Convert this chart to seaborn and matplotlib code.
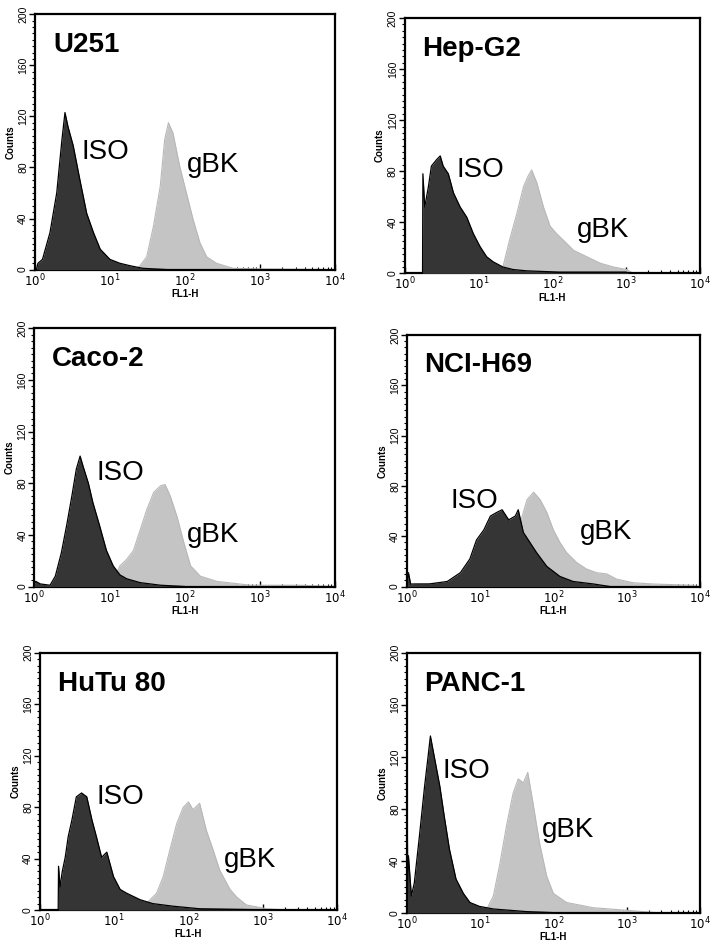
import numpy as np
import matplotlib
matplotlib.use("Agg")
import matplotlib.pyplot as plt
import seaborn as sns
from matplotlib.ticker import MultipleLocator, LogLocator

sns.set_style("ticks")
plt.rcParams['font.family'] = ['Liberation Sans', 'DejaVu Sans']
plt.rcParams['text.color'] = 'black'
plt.rcParams['axes.labelcolor'] = 'black'
plt.rcParams['xtick.color'] = 'black'
plt.rcParams['ytick.color'] = 'black'

# panel names
cells = ["U251", "Hep-G2", "Caco-2", "NCI-H69", "HuTu 80", "PANC-1"]

# histogram outlines: log10(FL1-H) position, counts
u251_iso_log = [0.02, 0.04, 0.1, 0.2, 0.29, 0.36, 0.4, 0.44, 0.51, 0.6, 0.69, 0.78, 0.87, 1.0, 1.13, 1.27, 1.44, 1.76]
u251_iso_cnt = [0, 5, 8, 29, 60, 102, 123, 112, 97, 70, 44, 29, 16, 8, 5, 3, 1, 0]
u251_gbk_log = [1.35, 1.4, 1.49, 1.58, 1.67, 1.73, 1.78, 1.84, 1.93, 2.02, 2.11, 2.2, 2.29, 2.42, 2.64, 3.09, 3.98]
u251_gbk_cnt = [0, 3, 10, 34, 65, 102, 115, 107, 81, 60, 39, 21, 10, 5, 1, 0.5, 0]

hepg2_iso_log = [0.24, 0.245, 0.27, 0.32, 0.36, 0.43, 0.48, 0.52, 0.59, 0.66, 0.75, 0.84, 0.93, 1.02, 1.11, 1.2, 1.33, 1.47, 1.65, 2.1, 3.0, 3.05]
hepg2_iso_cnt = [0, 78, 52, 68, 84, 89, 92, 84, 78, 63, 52, 44, 31, 21, 13, 9, 5, 3, 2, 1, 1, 0]
hepg2_gbk_log = [1.3, 1.33, 1.42, 1.52, 1.61, 1.67, 1.72, 1.79, 1.88, 1.97, 2.06, 2.15, 2.29, 2.47, 2.65, 2.83, 3.01, 3.1]
hepg2_gbk_cnt = [0, 5, 26, 47, 68, 76, 81, 71, 52, 37, 31, 26, 18, 13, 8, 5, 3, 0]

caco2_iso_log = [0.0, 0.02, 0.08, 0.21, 0.28, 0.36, 0.43, 0.5, 0.56, 0.61, 0.65, 0.72, 0.78, 0.87, 0.96, 1.05, 1.14, 1.23, 1.41, 1.68, 2.0]
caco2_iso_cnt = [2, 4, 2, 1, 8, 26, 47, 70, 91, 101, 93, 80, 65, 47, 28, 16, 9, 6, 3, 1, 0]
caco2_gbk_log = [1.0, 1.05, 1.14, 1.23, 1.32, 1.41, 1.5, 1.59, 1.68, 1.74, 1.81, 1.9, 1.99, 2.08, 2.21, 2.43, 2.88, 3.54, 3.98]
caco2_gbk_cnt = [0, 5, 16, 21, 28, 44, 60, 73, 78, 79, 70, 54, 34, 16, 8, 4, 1, 1, 0]

ncih69_iso_log = [0.0, 0.02, 0.05, 0.3, 0.55, 0.73, 0.86, 0.95, 1.05, 1.14, 1.23, 1.3, 1.39, 1.48, 1.52, 1.59, 1.68, 1.77, 1.91, 2.09, 2.27, 2.55, 2.77]
ncih69_iso_cnt = [0, 11, 2, 2, 4, 11, 22, 37, 45, 56, 59, 61, 53, 56, 61, 43, 35, 27, 16, 8, 4, 2, 0]
ncih69_gbk_log = [0.1, 0.73, 0.95, 1.18, 1.36, 1.5, 1.55, 1.64, 1.73, 1.82, 1.91, 2.0, 2.09, 2.18, 2.32, 2.45, 2.59, 2.73, 2.86, 3.09, 3.36, 3.91, 3.98]
ncih69_gbk_cnt = [2, 3, 8, 22, 35, 45, 51, 69, 75, 69, 59, 45, 35, 27, 19, 14, 11, 10, 6, 3, 2, 1, 0]

hutu80_iso_log = [0.245, 0.25, 0.27, 0.3, 0.34, 0.38, 0.43, 0.49, 0.56, 0.63, 0.7, 0.76, 0.83, 0.9, 0.99, 1.08, 1.17, 1.35, 1.52, 1.79, 2.15, 3.23]
hutu80_iso_cnt = [0, 34, 18, 30, 41, 57, 70, 88, 91, 88, 70, 57, 41, 45, 26, 16, 13, 8, 5, 3, 1, 0]
hutu80_gbk_log = [1.38, 1.43, 1.57, 1.66, 1.75, 1.84, 1.93, 2.0, 2.06, 2.15, 2.24, 2.33, 2.42, 2.56, 2.65, 2.78, 3.05, 3.3]
hutu80_gbk_cnt = [0, 5, 13, 26, 47, 67, 80, 84, 78, 83, 62, 47, 31, 16, 10, 4, 1, 0]

panc1_iso_log = [0.0, 0.02, 0.06, 0.1, 0.17, 0.24, 0.29, 0.32, 0.38, 0.45, 0.51, 0.58, 0.67, 0.77, 0.86, 0.99, 1.18, 1.63, 2.09]
panc1_iso_cnt = [0, 44, 13, 23, 59, 97, 121, 136, 118, 97, 74, 49, 26, 15, 8, 5, 3, 1, 0]
panc1_gbk_log = [0.0, 0.005, 0.03, 1.05, 1.11, 1.18, 1.27, 1.36, 1.45, 1.52, 1.59, 1.65, 1.72, 1.81, 1.91, 2.0, 2.18, 2.54, 3.0, 3.45]
panc1_gbk_cnt = [0, 62, 0, 0, 5, 13, 38, 67, 92, 103, 100, 108, 85, 54, 28, 15, 8, 4, 2, 0]

iso_logs = [u251_iso_log, hepg2_iso_log, caco2_iso_log, ncih69_iso_log, hutu80_iso_log, panc1_iso_log]
iso_cnts = [u251_iso_cnt, hepg2_iso_cnt, caco2_iso_cnt, ncih69_iso_cnt, hutu80_iso_cnt, panc1_iso_cnt]
gbk_logs = [u251_gbk_log, hepg2_gbk_log, caco2_gbk_log, ncih69_gbk_log, hutu80_gbk_log, panc1_gbk_log]
gbk_cnts = [u251_gbk_cnt, hepg2_gbk_cnt, caco2_gbk_cnt, ncih69_gbk_cnt, hutu80_gbk_cnt, panc1_gbk_cnt]

# label positions (log10 x, counts) for ISO / gBK
iso_pos = [(0.62, 92), (0.70, 81), (0.83, 88), (0.59, 68), (0.76, 88), (0.49, 109)]
gbk_pos = [(2.02, 82), (2.33, 34), (2.03, 40), (2.36, 43), (2.47, 39), (1.84, 64)]

# axes rectangles in figure fraction
rects = [
    [0.049, 0.715, 0.420, 0.270],
    [0.567, 0.711, 0.413, 0.270],
    [0.048, 0.380, 0.421, 0.273],
    [0.570, 0.380, 0.410, 0.266],
    [0.056, 0.038, 0.416, 0.272],
    [0.570, 0.035, 0.410, 0.275],
]

fig = plt.figure(figsize=(7.14, 9.46), dpi=100)

for i, name in enumerate(cells):
    ax = fig.add_axes(rects[i])
    gx = 10 ** np.array(gbk_logs[i])
    gy = np.array(gbk_cnts[i])
    ix = 10 ** np.array(iso_logs[i])
    iy = np.array(iso_cnts[i])

    # gBK light grey behind, isotype dark on top
    ax.fill_between(gx, gy, color="#c4c4c4", lw=0, zorder=2)
    sns.lineplot(x=gx, y=gy, ax=ax, color="#b8b8b8", lw=0.8, zorder=2, sort=False)
    ax.fill_between(ix, iy, color="#353535", lw=0, zorder=3)
    sns.lineplot(x=ix, y=iy, ax=ax, color="black", lw=0.9, zorder=4, sort=False)

    ax.set_xscale("log")
    ax.set_xlim(1, 10000)
    ax.set_ylim(0, 200)
    ax.set_xticks([1, 10, 100, 1000, 10000])
    ax.set_xticklabels([r"$10^{0}$", r"$10^{1}$", r"$10^{2}$", r"$10^{3}$", r"$10^{4}$"], fontsize=8.5)
    ax.xaxis.set_minor_locator(LogLocator(base=10, subs=np.arange(2, 10)))
    ax.xaxis.set_minor_formatter(plt.NullFormatter())
    ax.set_yticks([0, 40, 80, 120, 160, 200])
    ax.yaxis.set_minor_locator(MultipleLocator(5))
    for lab in ax.get_yticklabels():
        lab.set_rotation(90)
        lab.set_va("center")
        lab.set_fontsize(7.5)
    ax.tick_params(axis="x", which="major", direction="in", length=4, width=1, pad=2)
    ax.tick_params(axis="x", which="minor", direction="in", length=2, width=0.8)
    ax.tick_params(axis="y", which="major", direction="out", length=4, width=1, pad=1)
    ax.tick_params(axis="y", which="minor", direction="out", length=2, width=0.8)

    for side in ["top", "right", "bottom", "left"]:
        ax.spines[side].set_visible(True)
        ax.spines[side].set_linewidth(1.6)
        ax.spines[side].set_color("black")

    ax.set_xlabel("FL1-H", fontsize=7, fontweight="bold", labelpad=0)
    ax.set_ylabel("Counts", fontsize=7, fontweight="bold", labelpad=2)

    ax.text(0.06, 0.88, name, transform=ax.transAxes, fontsize=20, fontweight="bold",
            ha="left", va="center", color="black", zorder=5)
    ax.text(10 ** iso_pos[i][0], iso_pos[i][1], "ISO", fontsize=20, ha="left", va="center", zorder=5)
    ax.text(10 ** gbk_pos[i][0], gbk_pos[i][1], "gBK", fontsize=20, ha="left", va="center", zorder=5)

fig.savefig("out.png", dpi=100)
